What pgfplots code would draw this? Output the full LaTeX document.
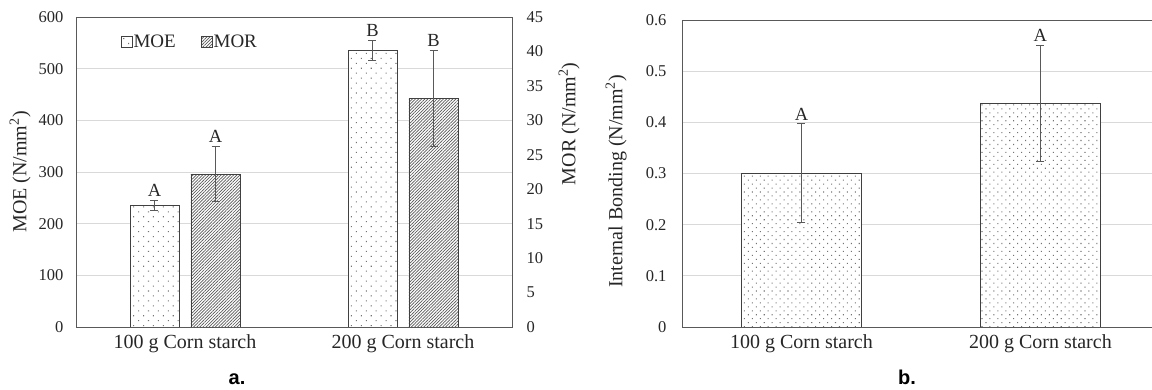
\documentclass[border=0pt]{standalone}
\usepackage{fontspec}
\setmainfont{Liberation Serif}
\newfontfamily\sansfnt{Liberation Sans}
\usepackage{pgfplots}
\pgfplotsset{compat=1.18}
\usetikzlibrary{patterns.meta}
\definecolor{axgray}{HTML}{595959}
\definecolor{gridgray}{HTML}{D9D9D9}
\definecolor{barline}{HTML}{404040}
\definecolor{txt}{HTML}{262626}
\newcommand\tickfont{\fontsize{16.5}{19}\selectfont}
\newcommand\catfont{\fontsize{20}{24}\selectfont}
\newcommand\letfont{\fontsize{18.5}{22}\selectfont}
\pgfplotsset{
  moe/.style={fill=white, draw=barline, line width=0.8pt,
    postaction={pattern={Dots[angle=45,distance=7pt,radius=0.75pt]}, pattern color=black!55}},
  moeb/.style={fill=white, draw=barline, line width=0.8pt,
    postaction={pattern={Dots[angle=45,distance=5.6pt,radius=0.75pt]}, pattern color=black!55}},
  mor/.style={fill=white, draw=barline, line width=0.8pt,
    postaction={pattern={Lines[angle=45,distance=2.2pt,line width=0.7pt]}, pattern color=black!65}},
  sqlegend/.style={legend image code/.code={\draw[##1] (0pt,-5.5pt) rectangle (11pt,5.5pt);}},
  errs/.style={error bars/.cd, y dir=both, y explicit,
    error bar style={axgray, line width=0.9pt},
    error mark options={axgray, rotate=90, mark size=4pt, line width=0.9pt}},
  base/.style={scale only axis, anchor=south west,
    major tick length=0pt,
    tick label style={font=\tickfont, text=txt},
    /pgf/number format/assume math mode=true,
    axis line style={-, axgray, line width=0.8pt},
    label style={font=\catfont, text=txt},
  },
}
\begin{document}
\begin{tikzpicture}
\path[use as bounding box] (0,0) rectangle (1152pt,390pt);
% ---------- chart a, left axis (MOE)
\begin{axis}[base,
  at={(76pt,63pt)}, width=436pt, height=310pt,
  xmin=0, xmax=2, ymin=0, ymax=600,
  ytick={0,100,200,300,400,500,600},
  xtick={0.5,1.5}, xticklabels={100 g Corn starch, 200 g Corn starch},
  xticklabel style={font=\catfont, yshift=-4pt},
  yticklabel style={xshift=-9pt},
  ymajorgrids, grid style={gridgray, line width=0.8pt},
  ylabel={MOE (N/mm\textsuperscript{2})},
  ylabel style={at={(axis description cs:-0.128,0.5)}, anchor=center},
  legend style={draw=none, fill=none, at={(axis description cs:0.26,0.919)}, anchor=center,
    font=\fontsize{19}{22}\selectfont, text=txt, legend columns=2,
    /tikz/every even column/.append style={column sep=24pt},
    nodes={inner sep=1pt}},
]
\addplot[ybar, bar width=0.225, bar shift=0pt, moe, sqlegend, errs]
  table[x=x, y=y, y error=e] {
x y e
0.36 235 10
1.36 535 20
};
\addlegendentry{MOE}
\addlegendimage{mor, sqlegend}
\addlegendentry{MOR}
\node[anchor=south, font=\letfont, text=txt] at (axis cs:0.36,245) {A};
\node[anchor=south, font=\letfont, text=txt] at (axis cs:1.36,555) {B};
\end{axis}
% ---------- chart a, right axis (MOR)
\begin{axis}[base,
  at={(76pt,63pt)}, width=436pt, height=310pt,
  xmin=0, xmax=2, ymin=0, ymax=45,
  ytick={0,5,10,15,20,25,30,35,40,45},
  axis y line*=right, hide x axis,
  yticklabel style={xshift=11pt},
  ylabel={MOR (N/mm\textsuperscript{2})},
  ylabel style={at={(axis description cs:1.131,0.655)}, anchor=center},
]
\addplot[ybar, bar width=0.225, bar shift=0pt, mor, errs]
  table[x=x, y=y, y error=e] {
x y e
0.64 22.2 4.0
1.64 33.2 7.0
};
\node[anchor=south, font=\letfont, text=txt] at (axis cs:0.64,26.2) {A};
\node[anchor=south, font=\letfont, text=txt] at (axis cs:1.64,40.2) {B};
\end{axis}
% ---------- chart b
\begin{axis}[base,
  at={(682pt,63pt)}, width=470pt, height=307pt,
  xmin=0, xmax=1.967, ymin=0, ymax=0.6,
  ytick={0,0.1,0.2,0.3,0.4,0.5,0.6},
  axis x line*=bottom, axis y line*=left,
  xtick={0.5,1.5}, xticklabels={100 g Corn starch, 200 g Corn starch},
  xticklabel style={font=\catfont, yshift=-4pt},
  yticklabel style={xshift=-12pt},
  ymajorgrids, grid style={gridgray, line width=0.8pt},
  ylabel={Internal Bonding (N/mm\textsuperscript{2})},
  ylabel style={at={(axis description cs:-0.140,0.474)}, anchor=center},
]
\addplot[ybar, bar width=0.5, bar shift=0pt, moeb, errs]
  table[x=x, y=y, y error=e] {
x y e
0.5 0.301 0.096
1.5 0.437 0.113
};
\draw[axgray, line width=0.8pt] (rel axis cs:0,1) -- (rel axis cs:1,1);
\node[anchor=south, font=\letfont, text=txt] at (axis cs:0.5,0.397) {A};
\node[anchor=south, font=\letfont, text=txt] at (axis cs:1.5,0.551) {A};
\end{axis}
\node[anchor=base, font=\sansfnt\bfseries\fontsize{20}{24}\selectfont, text=black] at (237pt,5pt) {a.};
\node[anchor=base, font=\sansfnt\bfseries\fontsize{20}{24}\selectfont, text=black] at (907pt,5pt) {b.};
\end{tikzpicture}
\end{document}
